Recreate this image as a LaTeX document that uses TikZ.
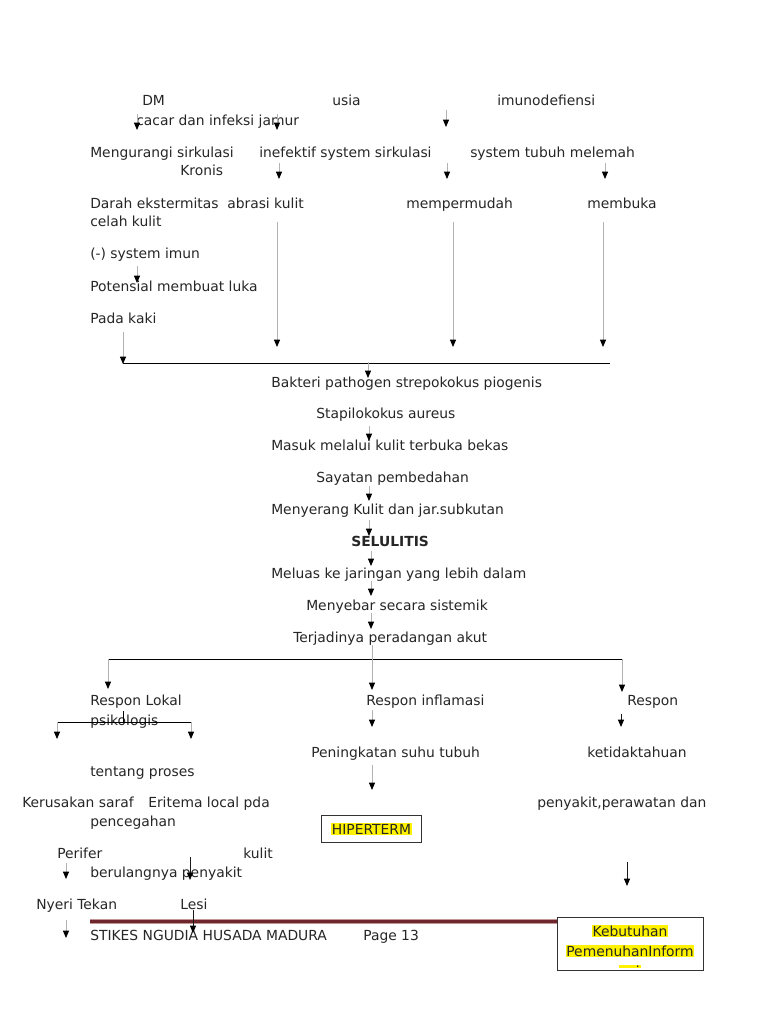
\documentclass[tikz,border=0pt]{standalone}
\usepackage{fontspec}
\setmainfont{DejaVu Sans}
\usetikzlibrary{arrows.meta}

\definecolor{footdark}{RGB}{110,40,45}
\definecolor{footlight}{RGB}{195,150,150}
\newcommand{\hlt}[1]{{\setlength{\fboxsep}{0.6pt}\colorbox{yellow}{#1}}}

\begin{document}
\begin{tikzpicture}[x=0.75pt,y=-0.75pt,
  every node/.style={font=\fontsize{10.4}{12.5}\selectfont,text=black!85},
  txt/.style={anchor=west,inner sep=0pt,text height=7.6pt,text depth=2.2pt,yshift=-1.4pt},
  arr/.style={draw=black!30,line width=0.6pt,-{Triangle[color=black,width=4.5pt,length=5.5pt]}},
  barr/.style={arr,draw=black!90},
  bus/.style={draw=black,line width=0.7pt},
  tick/.style={draw=black,line width=0.6pt},
]
\useasboundingbox[fill=white] (0,0) rectangle (768,1024);

% ---------- causes ----------
\node[txt] (dm)        at (142,100) {DM};
\node[txt] (usia)      at (332,100) {usia};
\node[txt] (imuno)     at (497,100) {imunodefiensi};
\node[txt] (cacar)     at (136,120) {cacar dan infeksi jamur};
\node[txt] (kurang)    at (90,152)  {Mengurangi sirkulasi};
\node[txt] (inefektif) at (259,152) {inefektif system sirkulasi};
\node[txt] (melemah)   at (470,152) {system tubuh melemah};
\node[txt] (kronis)    at (180,170) {Kronis};
\node[txt] (darah)     at (90,203)  {Darah ekstermitas};
\node[txt] (abrasi)    at (227,203) {abrasi kulit};
\node[txt] (mudah)     at (406,203) {mempermudah};
\node[txt] (buka)      at (587,203) {membuka};
\node[txt] (celah)     at (90,221)  {celah kulit};
\node[txt] (imun)      at (90,253)  {(-) system imun};
\node[txt] (potensi)   at (90,286)  {Potensial membuat luka};
\node[txt] (kaki)      at (90,318)  {Pada kaki};

% ---------- main chain ----------
\node[txt] (bakteri)   at (271,382) {Bakteri pathogen strepokokus piogenis};
\node[txt] (stapilo)   at (316,413) {Stapilokokus aureus};
\node[txt] (masuk)     at (271,445) {Masuk melalui kulit terbuka bekas};
\node[txt] (sayatan)   at (316,477) {Sayatan pembedahan};
\node[txt] (serang)    at (271,509) {Menyerang Kulit dan jar.subkutan};
\node[txt,font=\fontsize{10.4}{12.5}\selectfont\bfseries] (selulitis) at (351,541) {SELULITIS};
\node[txt] (meluas)    at (271,573) {Meluas ke jaringan yang lebih dalam};
\node[txt] (menyebar)  at (306,605) {Menyebar secara sistemik};
\node[txt] (akut)      at (293,637) {Terjadinya peradangan akut};

% ---------- responses ----------
\node[txt] (lokal)     at (90,700)  {Respon Lokal};
\node[txt] (psiko)     at (90,720)  {psikologis};
\node[txt] (inflamasi) at (366,700) {Respon inflamasi};
\node[txt] (respon)    at (627,700) {Respon};
\node[txt] (suhu)      at (311,752) {Peningkatan suhu tubuh};
\node[txt] (tahu)      at (587,752) {ketidaktahuan};
\node[txt] (proses)    at (90,771)  {tentang proses};
\node[txt] (saraf)     at (22,802)  {Kerusakan saraf};
\node[txt] (eritema)   at (148,802) {Eritema local pda};
\node[txt] (rawat)     at (537,802) {penyakit,perawatan dan};
\node[txt] (cegah)     at (90,821)  {pencegahan};
\node[draw=black!80,line width=0.6pt,minimum width=75pt,minimum height=20pt,inner sep=0pt]
  (hiper) at (371.5,829) {\hlt{HIPERTERM}};
\node[txt] (perifer)   at (57,853)  {Perifer};
\node[txt] (kulit)     at (243,853) {kulit};
\node[txt] (ulang)     at (90,872)  {berulangnya penyakit};
\node[txt] (nyeri)     at (36,904)  {Nyeri Tekan};
\node[txt] (lesi)      at (180,904) {Lesi};

% ---------- footer ----------
\coordinate (footL) at (90,921.5);
\coordinate (footR) at (557,921.5);
\draw[footlight,line width=4pt] (footL) -- (footR);
\draw[footdark,line width=2pt] (footL) -- (footR);
\node[txt] (stikes) at (90,935)  {STIKES NGUDIA HUSADA MADURA};
\node[txt] (page)   at (363,935) {Page 13};

% box cut off at its bottom
\node[draw=black!80,fill=white,line width=0.6pt,minimum width=109.5pt,minimum height=40pt,inner sep=0pt]
  (keb) at (630.5,944) {};
\begin{scope}
  \clip (557,917) rectangle (704,967);
  \node[align=center,inner sep=0pt,font=\fontsize{10.4}{15}\selectfont] (kebtxt) at (630,951)
    {\hlt{Kebutuhan}\\\hlt{PemenuhanInform}\\\hlt{asi}};
\end{scope}

% ---------- bus lines ----------
\coordinate (b1L) at (123,363);  \coordinate (b1R) at (610,363);
\coordinate (b2L) at (108,659);  \coordinate (b2R) at (622,659);
\coordinate (b3L) at (57,722);   \coordinate (b3R) at (191,722);
\draw[bus] (b1L) -- (b1R);
\draw[bus] (b2L) -- (b2R);
\draw[bus] (b3L) -- (b3R);
\draw[tick] (123,711) coordinate (tk) -- (tk |- b3L);

% ---------- arrows ----------
\foreach \nm/\x/\ya/\yb in {
  a1/137/114/130, a2/277/114/130, a3/446/110/127,
  a4/279/163/179, a5/447/163/179, a6/605/163/179,
  a7/277/222/347, a8/453/222/347, a9/603/222/347,
  a10/137/266/283, a11/123/332/364,
  a12/368/362/378, a13/369/426/441, a14/369/486/501, a15/369/520/536,
  a16/371/551/566, a17/371/581/596, a18/371/613/629,
  a19/372/645/690, a20/108/659/689, a21/622/659/692,
  a22/372/710/727, a24/57/722/739, a25/191/722/739,
  a26/372/765/790, a27/66/863/879, a30/66/920/938}
  \draw[arr] (\x,\ya) coordinate (\nm-s) -- (\x,\yb) coordinate (\nm-e);

\foreach \nm/\x/\ya/\yb in {
  a23/621/714/727, a28/190/857/880, a29/627/862/886, a31/193/910/933}
  \draw[barr] (\x,\ya) coordinate (\nm-s) -- (\x,\yb) coordinate (\nm-e);

\end{tikzpicture}
\end{document}
